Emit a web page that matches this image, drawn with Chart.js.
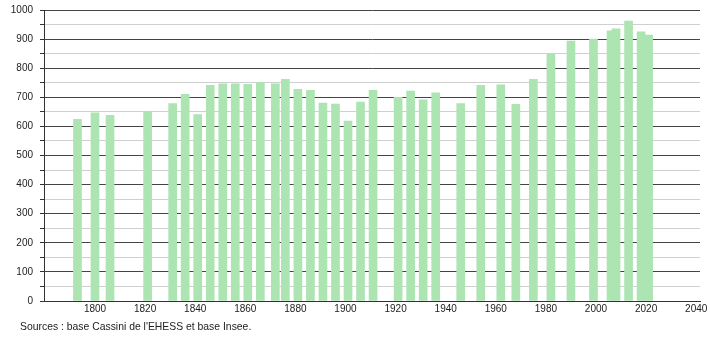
<!DOCTYPE html>
<html>
<head>
<meta charset="utf-8">
<script src="https://cdn.jsdelivr.net/npm/chart.js@4"></script>
<style>
html,body{margin:0;padding:0;background:#fff;}
#wrap{width:710px;height:340px;position:relative;}
</style>
</head>
<body>
<div id="wrap"><canvas id="c" width="710" height="340"></canvas></div>
<script>
const years = [1793,1800,1806,1821,1831,1836,1841,1846,1851,1856,1861,1866,1872,1876,1881,1886,1891,1896,1901,1906,1911,1921,1926,1931,1936,1946,1954,1962,1968,1975,1982,1990,1999,2006,2008,2013,2018,2021];
const population = [624,647,638,652,678,710,641,741,746,746,745,751,746,762,727,724,680,677,618,684,724,700,721,691,715,678,741,743,676,762,848,893,900,928,935,962,925,914];
const xTickLabels = [1800,1820,1840,1860,1880,1900,1920,1940,1960,1980,2000,2020,2040];
const yTickLabels = [0,100,200,300,400,500,600,700,800,900,1000];
const sourceText = "Sources : base Cassini de l'EHESS et base Insee.";

const FONT = {family: "'Liberation Sans', Arial, sans-serif", size: 10};

const sourcePlugin = {
  id: 'sourceText',
  afterDraw(chart) {
    const ctx = chart.ctx;
    ctx.save();
    ctx.font = "10.4px 'Liberation Sans', Arial, sans-serif";
    ctx.fillStyle = '#222';
    ctx.textBaseline = 'middle';
    ctx.textAlign = 'left';
    ctx.fillText(sourceText, 20, 327);
    ctx.restore();
  }
};

new Chart(document.getElementById('c'), {
  type: 'bar',
  data: {
    datasets: [{
      data: years.map((y, i) => ({x: y, y: population[i]})),
      backgroundColor: 'rgb(172,228,178)',
      borderWidth: 0,
      barThickness: 8
    }]
  },
  options: {
    responsive: false,
    animation: false,
    devicePixelRatio: 1,
    layout: {padding: {left: 0, right: 10, top: 10, bottom: 21}},
    plugins: {legend: {display: false}, tooltip: {enabled: false}},
    scales: {
      x: {
        type: 'linear',
        min: 1779.64,
        max: 2041.52,
        offset: false,
        afterBuildTicks(scale) {
          scale.ticks = xTickLabels.map(v => ({value: v}));
        },
        afterFit(scale) { scale.height = 18; },
        ticks: {
          font: FONT, color: '#222', padding: 2, maxRotation: 0, autoSkip: false,
          callback: v => String(v)
        },
        grid: {display: false, drawTicks: false, tickLength: 0},
        border: {display: true, color: '#333', width: 1}
      },
      y: {
        min: 0,
        max: 1000,
        afterBuildTicks(scale) {
          const t = [];
          for (let v = 0; v <= 1000; v += 50) t.push({value: v});
          scale.ticks = t;
        },
        afterFit(scale) { scale.width = 44; scale.paddingTop = 0; scale.paddingBottom = 0; },
        ticks: {
          font: FONT, color: '#222', padding: 7, autoSkip: false,
          callback: v => yTickLabels.includes(v) ? String(v) : ''
        },
        grid: {
          color: ctx => (ctx.tick && ctx.tick.value % 100 === 0) ? '#444' : '#cfcfcf',
          tickColor: '#333',
          tickLength: 4,
          lineWidth: 1
        },
        border: {display: true, color: '#333', width: 1}
      }
    }
  },
  plugins: [sourcePlugin]
});
</script>
</body>
</html>
